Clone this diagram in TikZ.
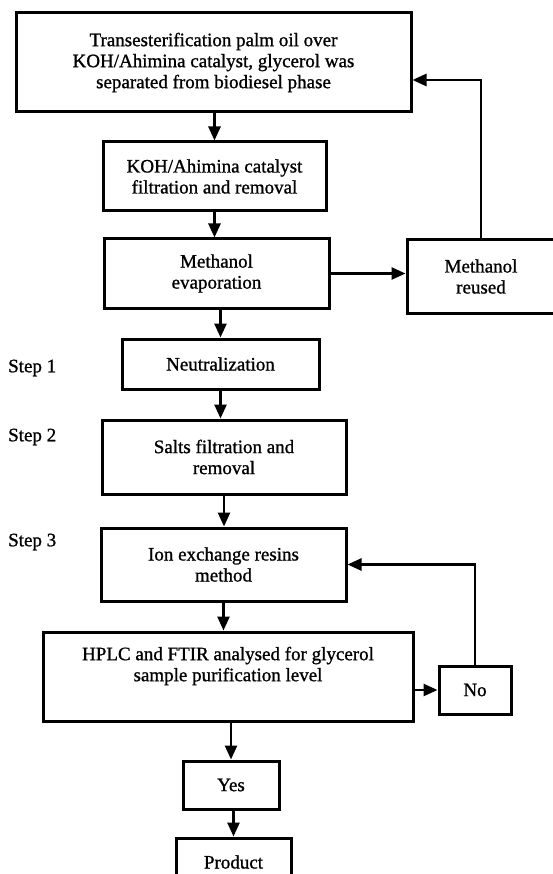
\documentclass[tikz,border=0pt]{standalone}
\usepackage{fontspec}
\setmainfont[FakeBold=1]{Liberation Serif}
\usetikzlibrary{arrows.meta, positioning}

\begin{document}
\begin{tikzpicture}[x=1pt, y=-1pt, >={Triangle[length=14pt,width=12pt]},
    box/.style={draw, line width=3pt, inner sep=0pt, align=center, font=\fontsize{19}{21}\selectfont},
    arr/.style={->, line width=2.6pt},
    steplabel/.style={anchor=west, inner sep=0pt, font=\fontsize{19}{21}\selectfont}]
    \useasboundingbox (0,0) rectangle (553,874);

    % Main chain
    \node[box, minimum width=395pt, minimum height=99pt] (trans) at (213.5,62.5) {Transesterification palm oil over\\ KOH/Ahimina catalyst, glycerol was\\ separated from biodiesel phase};
    \node[box, minimum width=223pt, minimum height=69pt] (koh) at (214.5,176.5) {KOH/Ahimina catalyst\\ filtration and removal};
    \node[box, minimum width=225pt, minimum height=69pt] (evap) at (216.5,273.5) {Methanol\\ evaporation};
    \node[box, minimum width=148pt, minimum height=73pt] (reuse) at (481,276.5) {Methanol\\ reused};
    \node[box, minimum width=197pt, minimum height=50pt] (neut) at (220.5,364) {Neutralization};
    \node[box, minimum width=244pt, minimum height=74pt] (salts) at (224,457) {Salts filtration and\\ removal};
    \node[box, minimum width=245pt, minimum height=73pt] (ion) at (223.5,564.5) {Ion exchange resins\\ method};
    \node[box, minimum width=370pt, minimum height=89pt] (hplc) at (228,676.5) {HPLC and FTIR analysed for glycerol\\ sample purification level\\[4pt] \mbox{}};
    \node[box, minimum width=72pt, minimum height=48pt] (no) at (475,690) {No};
    \node[box, minimum width=96pt, minimum height=48pt] (yes) at (231,785) {Yes};
    \node[box, minimum width=115pt, minimum height=48pt] (prod) at (233.5,862) {Product};

    % Step labels
    \node[steplabel] (step1) at (8,368) {Step 1};
    \node[steplabel] (step2) at (8,437) {Step 2};
    \node[steplabel] (step3) at (8,542) {Step 3};

    % Arrows down
    \draw[arr] (trans.south -| koh.north) -- (koh.north);
    \draw[arr] (koh.south) -- (koh.south |- evap.north);
    \draw[arr] (evap.south -| neut.north) -- (neut.north);
    \draw[arr] (neut.south) -- (neut.south |- salts.north);
    \draw[arr] (salts.south) -- (salts.south |- ion.north);
    \draw[arr] (ion.south) -- (ion.south |- hplc.north);
    \draw[arr] (hplc.south -| yes.north) -- (yes.north);
    \draw[arr] (yes.south -| prod.north) -- (prod.north);

    % Loops
    \draw[arr] (evap.east) -- (evap.east -| reuse.west);
    \draw[arr] (reuse.north) |- ([yshift=-17.5pt]trans.east);
    \draw[arr] (hplc.east |- no.west) -- (no.west);
    \draw[arr] (no.north) |- (ion.east);
\end{tikzpicture}
\end{document}
